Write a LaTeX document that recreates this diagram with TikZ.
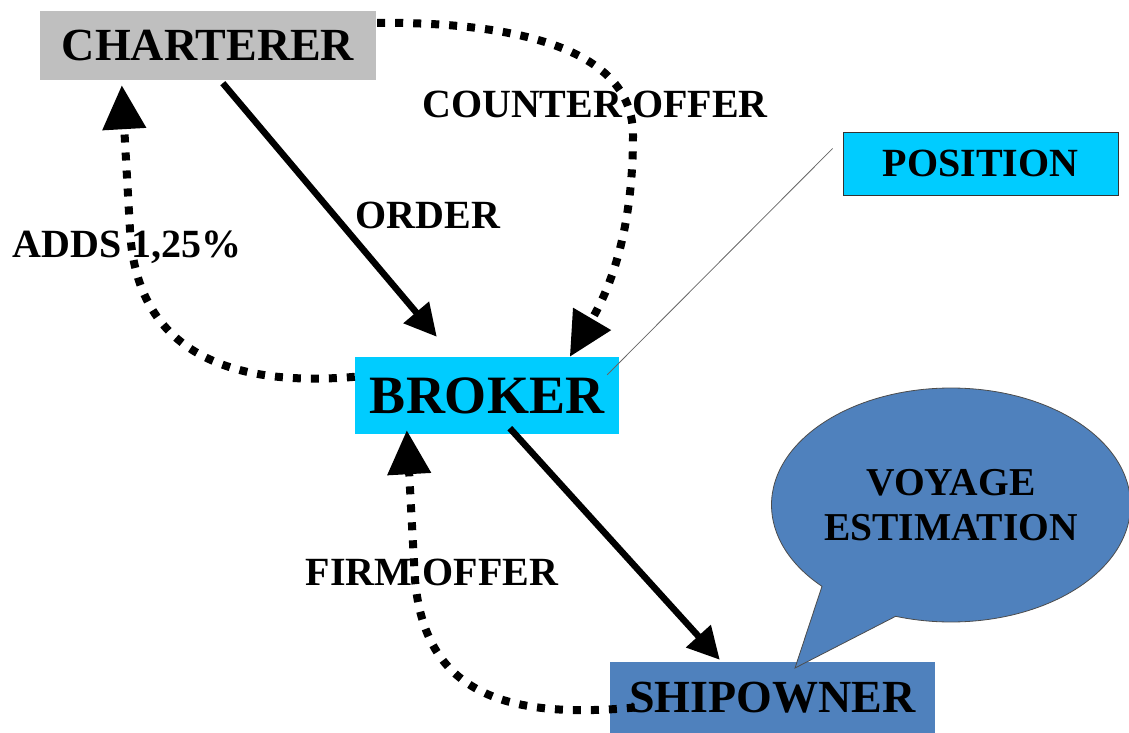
\documentclass[tikz,border=0pt]{standalone}
\usepackage{fontspec}
\setmainfont{Liberation Serif}
\usetikzlibrary{arrows.meta,calc,shapes.callouts,shapes.geometric}
\definecolor{chgray}{HTML}{BFBFBF}
\definecolor{cyanbox}{HTML}{00CCFF}
\definecolor{bluebox}{HTML}{4F81BD}
\tikzset{
  box/.style={inner sep=0pt, font=\bfseries},
  lbl/.style={inner sep=0pt, font=\bfseries\fontsize{40}{45}\selectfont},
  solidarrow/.style={line width=6.5pt, -{Triangle[length=32pt,width=32pt]}},
  dotarrow/.style={line width=8pt, dash pattern=on 8pt off 10pt, -{Triangle[length=44pt,width=42pt]}},
}
\begin{document}
\begin{tikzpicture}[x=1pt,y=-1pt]
\useasboundingbox (0,0) rectangle (1129,733);
% boxes
\node[box, fill=chgray, minimum width=336pt, minimum height=69pt, font=\bfseries\fontsize{46}{50}\selectfont] (ch) at (208,45.5) {CHARTERER};
\node[box, fill=cyanbox, minimum width=264pt, minimum height=77pt, font=\bfseries\fontsize{54}{58}\selectfont] (br) at (487,395.5) {BROKER};
\node[box, fill=bluebox, minimum width=325pt, minimum height=71pt, font=\bfseries\fontsize{46}{50}\selectfont] (sh) at (772.5,697.5) {SHIPOWNER};
\node[box, fill=cyanbox, draw=black!80, line width=0.8pt, minimum width=275pt, minimum height=63pt, font=\bfseries\fontsize{40}{44}\selectfont] (pos) at (980.5,163.5) {POSITION};
% callout
\node[ellipse callout, fill=bluebox, draw=black!70, line width=0.8pt, minimum width=356pt, minimum height=234pt, inner sep=0pt, callout absolute pointer={(795,668)}, callout pointer arc=28, align=center, font=\bfseries\fontsize{39.5}{45}\selectfont] (est) at (951,505) {VOYAGE\\ESTIMATION};
% labels
\node[lbl] (lco) at (595,104) {COUNTER OFFER};
\node[lbl] (lor) at (428,215) {ORDER};
\node[lbl] (lad) at (127,247) {ADDS 1,25\%};
\node[lbl] (lfi) at (432,572) {FIRM OFFER};
% solid arrows
\draw[solidarrow] ($(ch.south west)+(183,3)$) -- ($(br.north west)+(82,-20)$);
\draw[solidarrow] ($(br.south west)+(155,-6)$) -- ($(sh.north west)+(110,-2)$);
% dotted arrows
\draw[dotarrow] ($(ch.north east)+(1,12)$) .. controls (520,22) and (633,50) .. (633,135) .. controls (633,220) and (615,280) .. ($(br.north west)+(215,0)$);
\draw[dotarrow] ($(br.north west)+(0,20)$) .. controls (200,390) and (135,330) .. (130,230) -- ($(ch.south west)+(82,5)$);
\draw[dotarrow] ($(sh.west)+(25,10)$) .. controls (500,720) and (425,690) .. (415,580) -- ($(br.south west)+(52,-4)$);
% thin line
\draw[gray!80!black, line width=0.8pt] ($(br.north east)+(-12,18)$) -- ($(pos.west)+(-10,-15)$);
\end{tikzpicture}
\end{document}
